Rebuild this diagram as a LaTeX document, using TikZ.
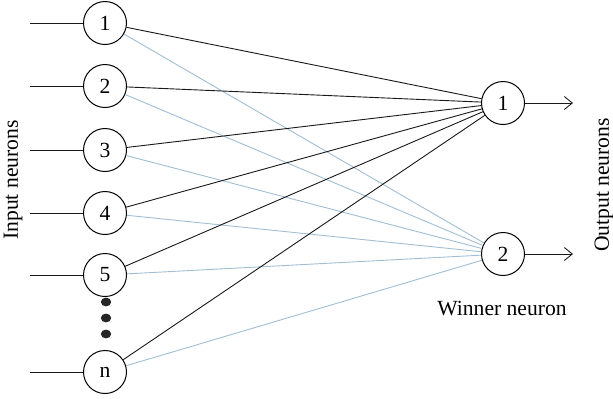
\documentclass[tikz,border=0pt]{standalone}
\usepackage{fontspec}
\setmainfont{Liberation Serif}
\usetikzlibrary{arrows.meta,shapes.geometric}

\definecolor{wireblue}{RGB}{160,190,212}

\begin{document}
\begin{tikzpicture} [x=0.5pt,y=-0.5pt,>={Straight Barb[length=4pt,width=6.5pt]},
			every node/.style={font=\fontsize{10.8}{13}\selectfont},
			neuron/.style={circle,draw,line width=0.5pt,minimum size=21.5pt,inner sep=0pt},
			win/.style={black!90,line width=0.45pt},
			lose/.style={wireblue,line width=0.45pt},
			dot/.style={ellipse,fill=black!85,minimum width=5.2pt,minimum height=4.4pt,inner sep=0pt}
			]

		\useasboundingbox (0,0) rectangle (613,398);

		% input layer
		\node [neuron] (i1) at (105,23) {1};
		\node [neuron] (i2) at (105,86) {2};
		\node [neuron] (i3) at (105,150) {3};
		\node [neuron] (i4) at (105,213) {4};
		\node [neuron] (i5) at (105,275) {5};
		\node [neuron] (in) at (105,372) {n};

		\node [dot] (d1) at (106,302) {};
		\node [dot] (d2) at (106,318) {};
		\node [dot] (d3) at (106,334) {};

		\coordinate (a1) at (30,23);
		\coordinate (a2) at (30,86);
		\coordinate (a3) at (30,150);
		\coordinate (a4) at (30,213);
		\coordinate (a5) at (30,275);
		\coordinate (an) at (30,372);

		% output layer
		\node [neuron] (o1) at (503,103) {1};
		\node [neuron] (o2) at (503,254) {2};
		\coordinate (e1) at (573,103);
		\coordinate (e2) at (573,254);

		\node [rotate=90] (inlabel) at (13,180) {Input neurons};
		\node [rotate=90] (outlabel) at (604,185) {Output neurons};
		\node (winner) at (502,308) {Winner neuron};

		% connections
		\draw [lose] (o2)
			edge (i1) edge (i2) edge (i3) edge (i4) edge (i5) edge (in);
		\draw [win] (o1)
			edge (i1) edge (i2) edge (i3) edge (i4) edge (i5) edge (in);
		\draw [win] (a1) -- (i1) (a2) -- (i2) (a3) -- (i3)
			(a4) -- (i4) (a5) -- (i5) (an) -- (in);
		\draw [win,->] (o1) -- (e1);
		\draw [win,->] (o2) -- (e2);

		\end{tikzpicture}
\end{document}
